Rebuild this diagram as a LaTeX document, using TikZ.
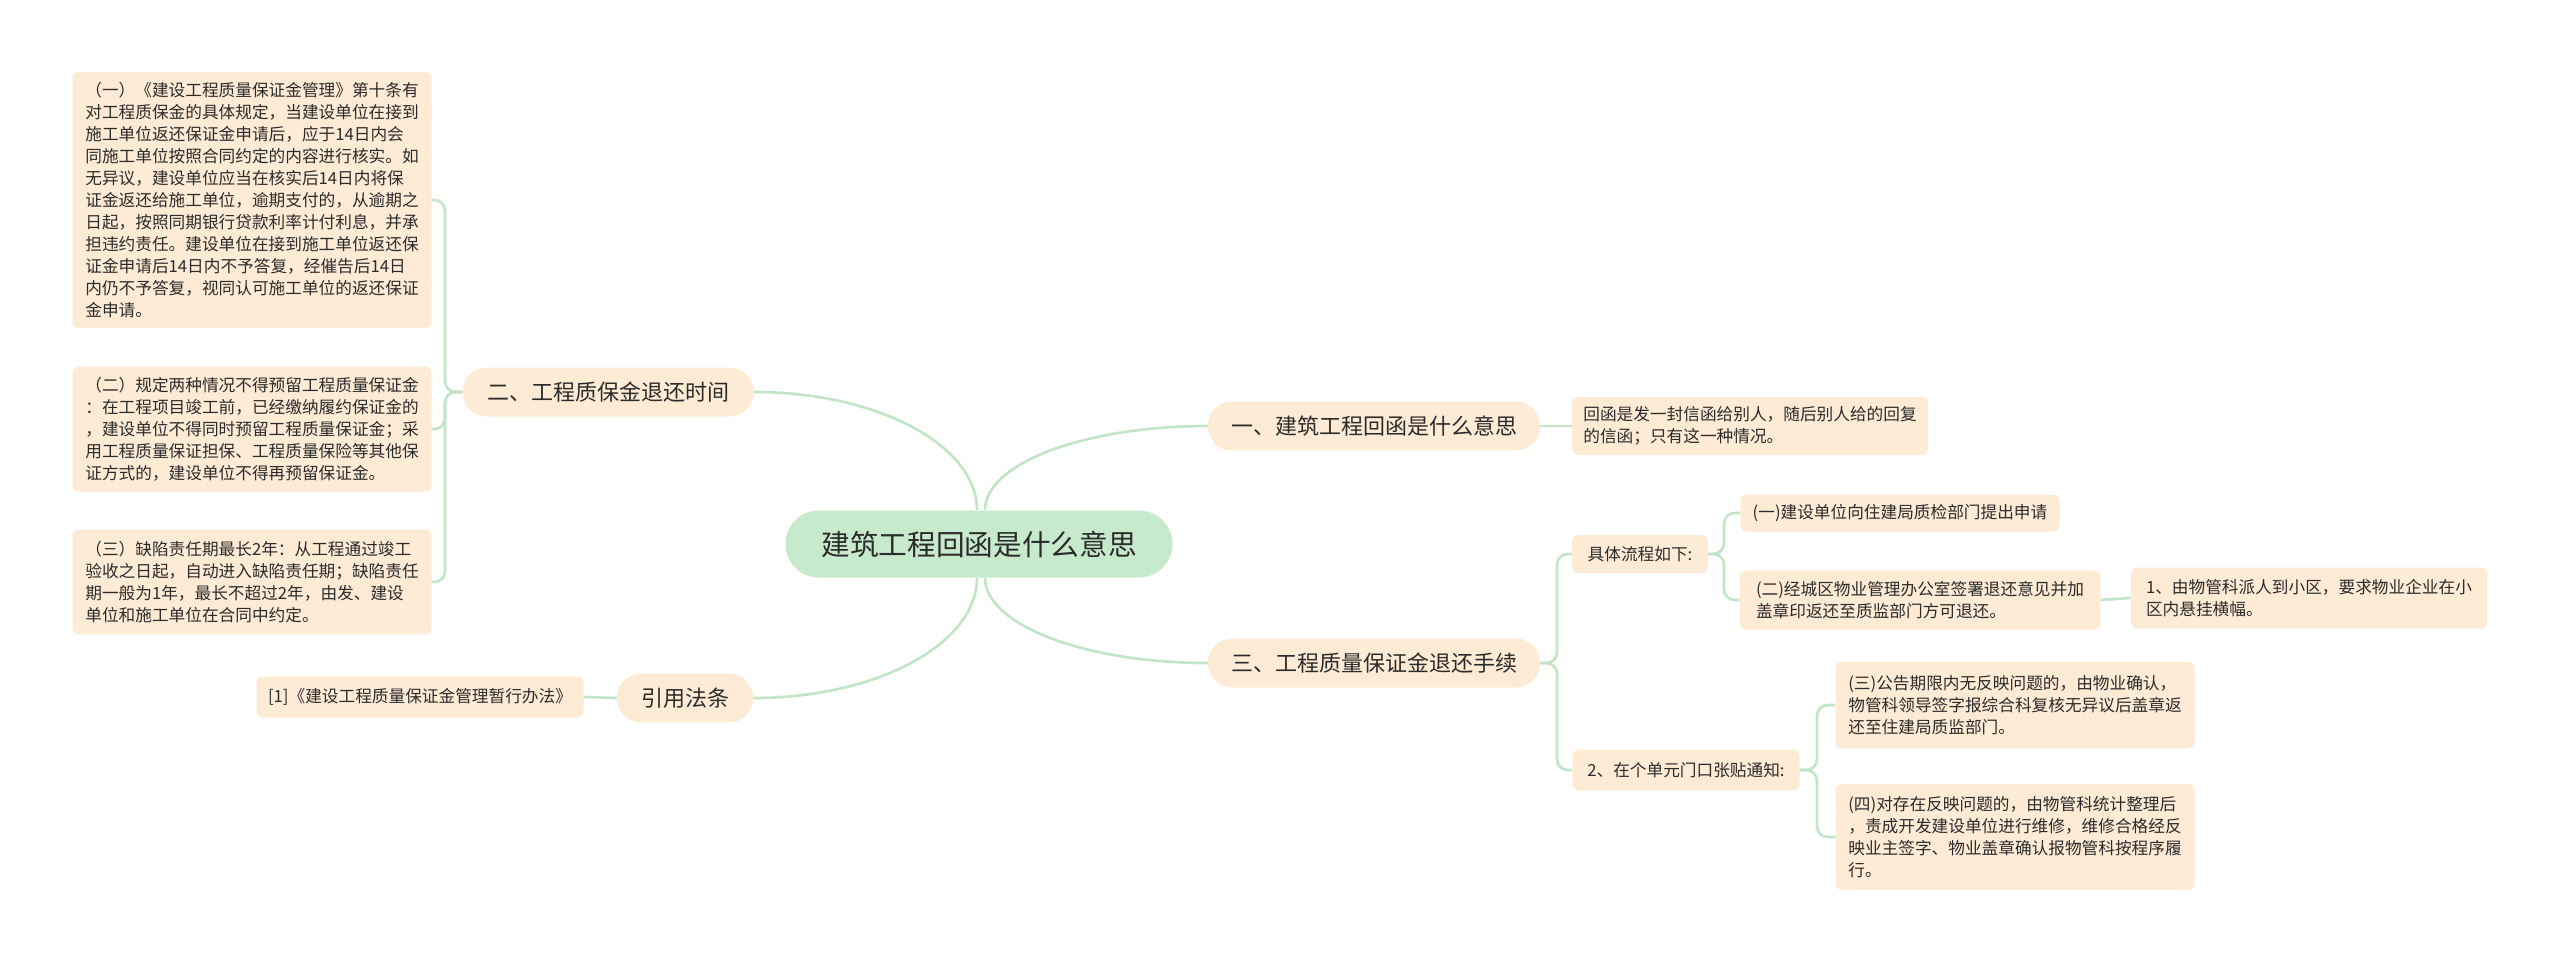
\documentclass[tikz,border=0pt]{standalone}
\usepackage{fontspec}
\setmainfont{Noto Sans CJK SC}
\usetikzlibrary{calc}
\definecolor{peach}{RGB}{253,235,214}
\definecolor{ctrgreen}{RGB}{199,234,204}
\definecolor{lnk}{RGB}{194,229,199}
\definecolor{txt}{RGB}{43,43,43}
\begin{document}
\begin{tikzpicture}[x=0.75pt,y=-0.75pt,
  base/.style={fill=peach, text=txt, align=left, inner sep=0pt},
  leaf/.style={base, rounded corners=5pt, font=\fontsize{12.5pt}{16.5pt}\selectfont},
  branch/.style={base, rounded corners=18pt, font=\fontsize{16.5pt}{20pt}\selectfont, minimum height=36.75pt},
  root/.style={fill=ctrgreen, text=txt, rounded corners=25pt, font=\fontsize{21.5pt}{26pt}\selectfont, minimum width=290.25pt, minimum height=50.25pt},
  link/.style={draw=lnk, line width=2pt},
  bracket/.style={link, rounded corners=8pt},
]
\useasboundingbox (0,0) rectangle (2560,961);

% root
\node[root] (c) at (979,544) {建筑工程回函是什么意思};

% branches
\node[branch, minimum width=249pt] (b1) at (1374,426) {一、建筑工程回函是什么意思};
\node[branch, minimum width=249pt] (b3) at (1374,663) {三、工程质量保证金退还手续};
\node[branch, minimum width=218.25pt] (b2) at (608,392) {二、工程质保金退还时间};
\node[branch, minimum width=102pt] (b4) at (685,698) {引用法条};

% right leaves
\node[leaf, minimum width=267pt, minimum height=43.5pt] (r1) at (1750,426) {回函是发一封信函给别人，随后别人给的回复\\的信函；只有这一种情况。};
\node[leaf, minimum width=102pt, minimum height=28.5pt] (flow) at (1640,554) {具体流程如下:};
\node[leaf, minimum width=239.25pt, minimum height=27.75pt] (s1) at (1900,513) {(一)建设单位向住建局质检部门提出申请};
\node[leaf, minimum width=270.75pt, minimum height=44.25pt] (s2) at (1920,600) {(二)经城区物业管理办公室签署退还意见并加\\盖章印返还至质监部门方可退还。};
\node[leaf, minimum width=267pt, minimum height=45.75pt] (s2a) at (2309,598) {1、由物管科派人到小区，要求物业企业在小\\区内悬挂横幅。};
\node[leaf, minimum width=170.25pt, minimum height=30.75pt] (post) at (1686,770) {2、在个单元门口张贴通知:};
\node[leaf, minimum width=269.25pt, minimum height=65.25pt] (s3) at (2015,705) {(三)公告期限内无反映问题的，由物业确认，\\物管科领导签字报综合科复核无异议后盖章返\\还至住建局质监部门。};
\node[leaf, minimum width=269.25pt, minimum height=79.5pt] (s4) at (2015,837) {(四)对存在反映问题的，由物管科统计整理后\\，责成开发建设单位进行维修，维修合格经反\\映业主签字、物业盖章确认报物管科按程序履\\行。};

% left leaves
\node[leaf, minimum width=269.25pt, minimum height=192pt] (l1) at (252,200) {（一）《建设工程质量保证金管理》第十条有\\对工程质保金的具体规定，当建设单位在接到\\施工单位返还保证金申请后，应于14日内会\\同施工单位按照合同约定的内容进行核实。如\\无异议，建设单位应当在核实后14日内将保\\证金返还给施工单位，逾期支付的，从逾期之\\日起，按照同期银行贷款利率计付利息，并承\\担违约责任。建设单位在接到施工单位返还保\\证金申请后14日内不予答复，经催告后14日\\内仍不予答复，视同认可施工单位的返还保证\\金申请。};
\node[leaf, minimum width=269.25pt, minimum height=93.75pt] (l2) at (252,429) {（二）规定两种情况不得预留工程质量保证金\\：在工程项目竣工前，已经缴纳履约保证金的\\，建设单位不得同时预留工程质量保证金；采\\用工程质量保证担保、工程质量保险等其他保\\证方式的，建设单位不得再预留保证金。};
\node[leaf, minimum width=269.25pt, minimum height=78.75pt] (l3) at (252,582) {（三）缺陷责任期最长2年：从工程通过竣工\\验收之日起，自动进入缺陷责任期；缺陷责任\\期一般为1年，最长不超过2年，由发、建设\\单位和施工单位在合同中约定。};
\node[leaf, minimum width=245.25pt, minimum height=30.75pt] (ref) at (420,697) {[1]《建设工程质量保证金管理暂行办法》};

% root connectors (quarter-ellipse like curves)
\draw[link] ($(c.north)+(6,0)$) .. controls +(0,-47) and +(-123,0) .. (b1.west);
\draw[link] ($(c.south)+(6,0)$) .. controls +(0,47) and +(-123,0) .. (b3.west);
\draw[link] ($(c.north)+(-2,0)$) .. controls +(0,-65) and +(124,0) .. (b2.east);
\draw[link] ($(c.south)+(-2,0)$) .. controls +(0,66) and +(124,0) .. (b4.east);

% straight connectors
\draw[link] (b1.east) -- (r1.west);
\draw[link] (s2.east) -- (s2a.west);
\draw[link] (b4.west) -- (ref.east);

% brackets
\coordinate (k3) at (1557,663);
\draw[bracket] (b3.east) -- (k3) |- (flow.west);
\draw[bracket] (b3.east) -- (k3) |- (post.west);
\coordinate (kf) at (1724,554);
\draw[bracket] (flow.east) -- (kf) |- (s1.west);
\draw[bracket] (flow.east) -- (kf) |- (s2.west);
\coordinate (kp) at (1817,770);
\draw[bracket] (post.east) -- (kp) |- (s3.west);
\draw[bracket] (post.east) -- (kp) |- (s4.west);
\coordinate (k2) at (445,392);
\draw[bracket] (b2.west) -- (k2) |- (l1.east);
\draw[bracket] (b2.west) -- (k2) |- (l2.east);
\draw[bracket] (b2.west) -- (k2) |- (l3.east);
\end{tikzpicture}
\end{document}
